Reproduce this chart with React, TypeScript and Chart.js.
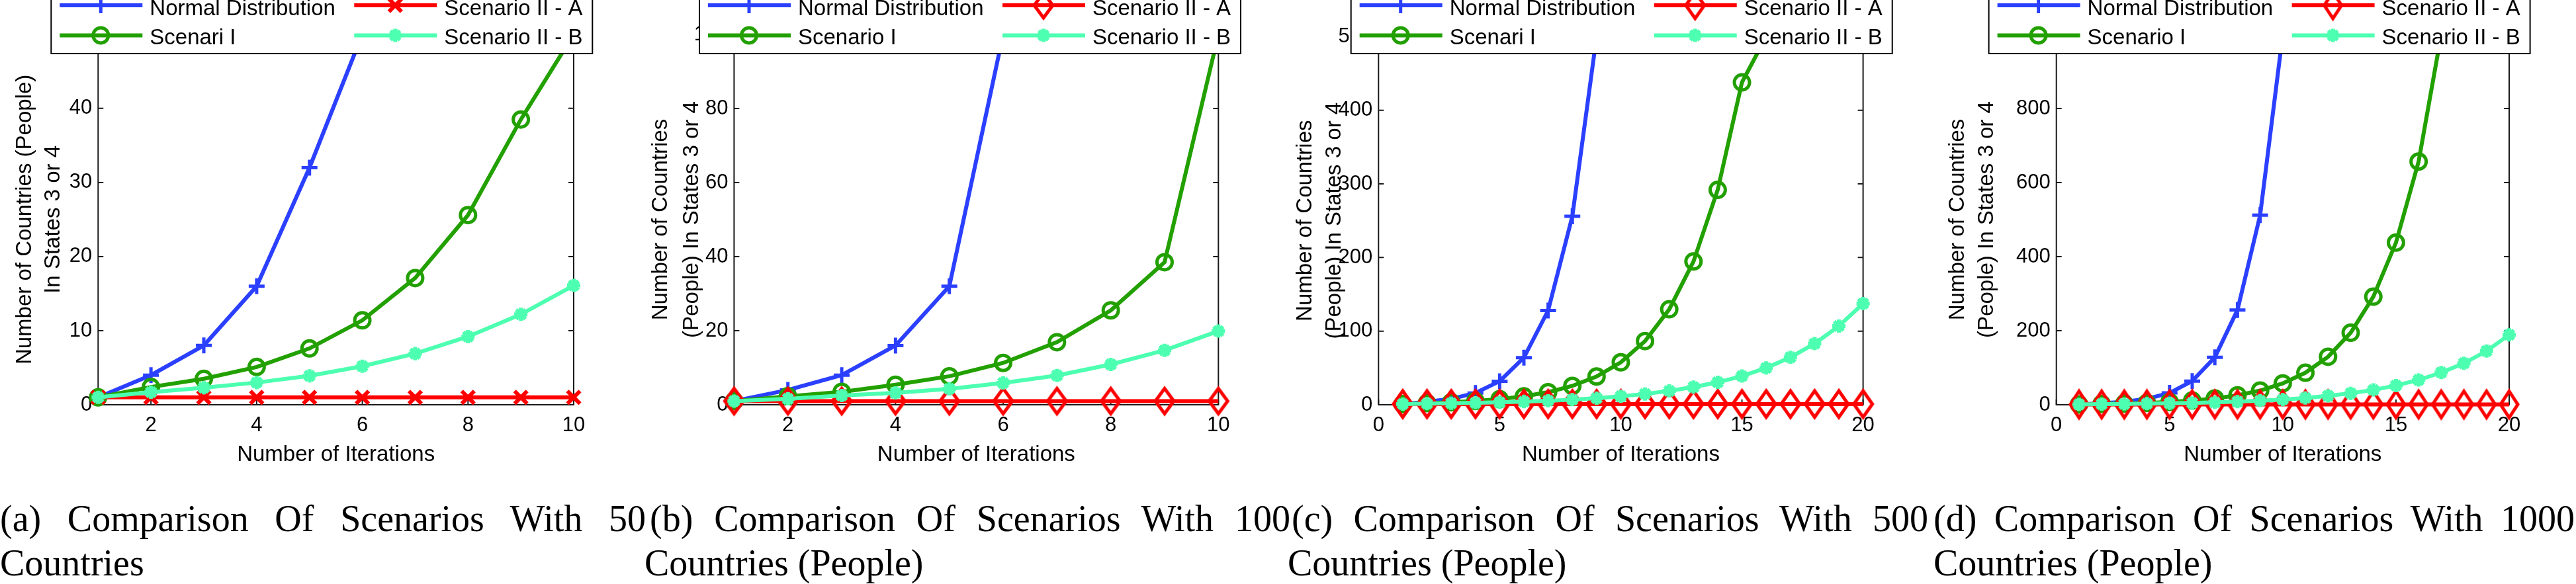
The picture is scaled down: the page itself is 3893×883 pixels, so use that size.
import React, { useEffect, useRef } from 'react';
import { Chart, registerables } from 'chart.js';

Chart.register(...registerables);

// ---------------- data ----------------
const iterations10 = [1, 2, 3, 4, 5, 6, 7, 8, 9, 10];
const iterations20 = [1, 2, 3, 4, 5, 6, 7, 8, 9, 10, 11, 12, 13, 14, 15, 16, 17, 18, 19, 20];

// (a) 50 countries
const normalA = [1, 4, 8, 16, 32, 50, 50, 50, 50, 50];
const scenarioIA = [1, 2.4, 3.5, 5.1, 7.6, 11.4, 17.1, 25.6, 38.5, 50];
const scenarioIIAa = [1, 1, 1, 1, 1, 1, 1, 1, 1, 1];
const scenarioIIBa = [1, 1.7, 2.3, 3.0, 3.9, 5.2, 6.9, 9.2, 12.2, 16.1];

// (b) 100 countries
const normalB = [1, 4, 8, 16, 32, 100, 100, 100, 100, 100];
const scenarioIB = [1, 2.3, 3.5, 5.4, 7.7, 11.3, 16.9, 25.5, 38.5, 100];
const scenarioIIAb = [1, 1, 1, 1, 1, 1, 1, 1, 1, 1];
const scenarioIIBb = [1, 1.6, 2.5, 3.2, 4.3, 5.9, 7.9, 10.9, 14.7, 19.9];

// (c) 500 countries
const normalC = [1, 4, 8, 16, 32, 64, 128, 256, 500, 500, 500, 500, 500, 500, 500, 500, 500, 500, 500, 500];
const scenarioIC = [1, 2.3, 3.4, 5.1, 7.6, 11.4, 17.1, 25.6, 38.4, 57.7, 86.5, 129.7, 194.6, 291.9, 437.9, 500, 500, 500, 500, 500];
const scenarioIIAc = [1, 1, 1, 1, 1, 1, 1, 1, 1, 1, 1, 1, 1, 1, 1, 1, 1, 1, 1, 1];
const scenarioIIBc = [1, 1.5, 2, 2.6, 3.3, 4.3, 5.5, 7, 9, 11.5, 14.7, 18.8, 24, 30.5, 39, 50, 64.5, 83, 107, 137.5];

// (d) 1000 countries
const normalD = [1, 4, 8, 16, 32, 64, 128, 256, 512, 1000, 1000, 1000, 1000, 1000, 1000, 1000, 1000, 1000, 1000, 1000];
const scenarioID = [1, 2.3, 3.4, 5.1, 7.6, 11.4, 17.1, 25.6, 38.4, 57.7, 86.5, 129.7, 194.6, 291.9, 437.9, 656.8, 1000, 1000, 1000, 1000];
const scenarioIIAd = [1, 1, 1, 1, 1, 1, 1, 1, 1, 1, 1, 1, 1, 1, 1, 1, 1, 1, 1, 1];
const scenarioIIBd = [1, 1.7, 2.3, 3, 3.9, 5, 6.5, 8.5, 11, 14, 18.5, 24, 31, 40, 52, 67, 87, 112, 145, 189];

// ticks
const xTicksShort = [2, 4, 6, 8, 10];
const xTicksLong = [0, 5, 10, 15, 20];
const yTicksA = [0, 10, 20, 30, 40, 50];
const yTicksB = [0, 20, 40, 60, 80, 100];
const yTicksC = [0, 100, 200, 300, 400, 500];
const yTicksD = [0, 200, 400, 600, 800, 1000];

// text
const legendLabelsA = ['Normal Distribution', 'Scenari I', 'Scenario II - A', 'Scenario II - B'];
const legendLabelsB = ['Normal Distribution', 'Scenario I', 'Scenario II - A', 'Scenario II - B'];
const legendLabelsC = ['Normal Distribution', 'Scenari I', 'Scenario II - A', 'Scenario II - B'];
const legendLabelsD = ['Normal Distribution', 'Scenario I', 'Scenario II - A', 'Scenario II - B'];
const yTitleA = ['Number of Countries (People)', 'In States 3 or 4'];
const yTitleOther = ['Number of Countries', '(People) In States 3 or 4'];
const xTitle = 'Number of Iterations';
const captionA = ['(a) Comparison Of Scenarios With 50', 'Countries'];
const captionB = ['(b) Comparison Of Scenarios With 100', 'Countries (People)'];
const captionC = ['(c) Comparison Of Scenarios With 500', 'Countries (People)'];
const captionD = ['(d) Comparison Of Scenarios With 1000', 'Countries (People)'];

// ---------------- styles / layout ----------------
const W = 973;
const H = 720;
const PLOT_BOTTOM = 612;
const FONT = '"Liberation Sans", Arial, sans-serif';
const SERIF = '"Liberation Serif", "Times New Roman", serif';
const BLUE = '#2b40ff';
const GREEN = '#22a000';
const RED = '#ff0000';
const AQUA = '#4dffb0';
const AXIS = '#1a1a1a';
const TICK_LEN = 8;

type Panel = {
  left: number;
  plotLeft: number;
  plotRight: number;
  plotTop: number;
  legendLeft: number;
  titleLH: number;
  titlePad: number;
  xMin: number;
  xMax: number;
  yMax: number;
  x: number[];
  series: number[][];
  labels: string[];
  yTitle: string[];
  xTicks: number[];
  yTicks: number[];
  diamond: null | { hw: number; hh: number };
};

const PANELS: Panel[] = [
  {
    left: 0, plotLeft: 148.3, plotRight: 867, plotTop: 51.8, legendLeft: 77.3, titleLH: 43, titlePad: 16,
    xMin: 1, xMax: 10, yMax: 50, x: iterations10,
    series: [normalA, scenarioIA, scenarioIIAa, scenarioIIBa], labels: legendLabelsA, yTitle: yTitleA,
    xTicks: xTicksShort, yTicks: yTicksA, diamond: null,
  },
  {
    left: 973, plotLeft: 136.4, plotRight: 868.3, plotTop: 52.1, legendLeft: 84, titleLH: 46.6, titlePad: 3.1,
    xMin: 1, xMax: 10, yMax: 100, x: iterations10,
    series: [normalB, scenarioIB, scenarioIIAb, scenarioIIBb], labels: legendLabelsB, yTitle: yTitleOther,
    xTicks: xTicksShort, yTicks: yTicksB, diamond: { hw: 14, hh: 19 },
  },
  {
    left: 1946, plotLeft: 137.3, plotRight: 869.6, plotTop: 55.4, legendLeft: 95.7, titleLH: 43.6, titlePad: 5.6,
    xMin: 0, xMax: 20, yMax: 500, x: iterations20,
    series: [normalC, scenarioIC, scenarioIIAc, scenarioIIBc], labels: legendLabelsC, yTitle: yTitleOther,
    xTicks: xTicksLong, yTicks: yTicksC, diamond: { hw: 14, hh: 20 },
  },
  {
    left: 2920, plotLeft: 187.7, plotRight: 872, plotTop: 52.1, legendLeft: 85.6, titleLH: 44, titlePad: 17,
    xMin: 0, xMax: 20, yMax: 1000, x: iterations20,
    series: [normalD, scenarioID, scenarioIIAd, scenarioIIBd], labels: legendLabelsD, yTitle: yTitleOther,
    xTicks: xTicksLong, yTicks: yTicksD, diamond: { hw: 13, hh: 20 },
  },
];

const CAPTIONS = [
  { lines: captionA, l1: [0, 976], l2: 0 },
  { lines: captionB, l1: [982, 1950], l2: 974 },
  { lines: captionC, l1: [1952, 2914], l2: 1946 },
  { lines: captionD, l1: [2922, 3891], l2: 2922 },
];

type MarkerStyle = { color: string; style: string | HTMLCanvasElement; radius: number; lw: number };

function makeDiamond(hw: number, hh: number, lw: number, color: string): HTMLCanvasElement {
  const c = document.createElement('canvas');
  const pad = lw + 2;
  c.width = Math.ceil(2 * hw + 2 * pad);
  c.height = Math.ceil(2 * hh + 2 * pad);
  const g = c.getContext('2d')!;
  const cx = c.width / 2;
  const cy = c.height / 2;
  g.strokeStyle = color;
  g.lineWidth = lw;
  g.lineJoin = 'miter';
  g.beginPath();
  g.moveTo(cx, cy - hh);
  g.lineTo(cx + hw, cy);
  g.lineTo(cx, cy + hh);
  g.lineTo(cx - hw, cy);
  g.closePath();
  g.stroke();
  return c;
}

function drawMarker(ctx: CanvasRenderingContext2D, m: MarkerStyle, x: number, y: number) {
  if (typeof m.style !== 'string') {
    const img = m.style;
    ctx.drawImage(img, x - img.width / 2, y - img.height / 2);
    return;
  }
  const r = m.radius;
  const d = r * Math.SQRT1_2;
  ctx.save();
  ctx.strokeStyle = m.color;
  ctx.lineWidth = m.lw;
  ctx.beginPath();
  if (m.style === 'circle') {
    ctx.arc(x, y, r, 0, Math.PI * 2);
  }
  if (m.style === 'cross' || m.style === 'star') {
    ctx.moveTo(x - r, y);
    ctx.lineTo(x + r, y);
    ctx.moveTo(x, y - r);
    ctx.lineTo(x, y + r);
  }
  if (m.style === 'crossRot' || m.style === 'star') {
    ctx.moveTo(x - d, y - d);
    ctx.lineTo(x + d, y + d);
    ctx.moveTo(x - d, y + d);
    ctx.lineTo(x + d, y - d);
  }
  ctx.stroke();
  ctx.restore();
}

function buildChart(canvas: HTMLCanvasElement, p: Panel): Chart {
  const markers: MarkerStyle[] = [
    { color: BLUE, style: 'cross', radius: 12, lw: 5 },
    { color: GREEN, style: 'circle', radius: 11.5, lw: 5 },
    p.diamond
      ? { color: RED, style: makeDiamond(p.diamond.hw, p.diamond.hh, 5, RED), radius: 15, lw: 5 }
      : { color: RED, style: 'crossRot', radius: 13.5, lw: 6 },
    { color: AQUA, style: 'star', radius: 10, lw: 6 },
  ];

  const datasets = p.series.map((vals, i) => ({
    label: p.labels[i],
    data: p.x.map((xv, j) => ({ x: xv, y: vals[j] })),
    borderColor: markers[i].color,
    borderWidth: 6,
    pointStyle: markers[i].style as any,
    pointRadius: markers[i].radius,
    pointBorderWidth: markers[i].lw,
    pointBorderColor: markers[i].color,
    pointBackgroundColor: 'rgba(0,0,0,0)',
    tension: 0,
    fill: false,
    clip: false as any,
    order: 3 - i,
  }));

  const framePlugin = {
    id: 'frameAndLegend',
    beforeDatasetsDraw(chart: Chart) {
      const { ctx, chartArea } = chart;
      const { left, right, top, bottom } = chartArea;
      const xs = chart.scales.x;
      const ys = chart.scales.y;
      ctx.save();
      ctx.strokeStyle = AXIS;
      ctx.lineWidth = 2;
      ctx.strokeRect(left, top, right - left, bottom - top);
      ctx.beginPath();
      for (const v of p.yTicks) {
        const py = ys.getPixelForValue(v);
        ctx.moveTo(left, py);
        ctx.lineTo(left + TICK_LEN, py);
        ctx.moveTo(right, py);
        ctx.lineTo(right - TICK_LEN, py);
      }
      for (const v of p.xTicks) {
        const px = xs.getPixelForValue(v);
        ctx.moveTo(px, bottom);
        ctx.lineTo(px, bottom - TICK_LEN);
        ctx.moveTo(px, top);
        ctx.lineTo(px, top + TICK_LEN);
      }
      ctx.stroke();
      ctx.restore();
    },
    afterDraw(chart: Chart) {
      const ctx = chart.ctx;
      const L = p.legendLeft;
      ctx.save();
      ctx.fillStyle = '#ffffff';
      ctx.fillRect(L, -30, 818, 111);
      ctx.strokeStyle = '#000000';
      ctx.lineWidth = 2;
      ctx.strokeRect(L, -30, 818, 111);
      const slots = [[0, 0], [0, 1], [1, 0], [1, 1]];
      markers.forEach((m, i) => {
        const [col, row] = slots[i];
        const x0 = L + (col ? 458 : 13);
        const ly = row ? 53.5 : 8;
        const ty = row ? 66.7 : 22.5;
        ctx.strokeStyle = m.color;
        ctx.lineWidth = 6;
        ctx.lineCap = 'butt';
        ctx.beginPath();
        ctx.moveTo(x0, ly);
        ctx.lineTo(x0 + 125, ly);
        ctx.stroke();
        drawMarker(ctx, m, x0 + 62, ly);
        ctx.fillStyle = '#000000';
        ctx.font = `33px ${FONT}`;
        ctx.textAlign = 'left';
        ctx.textBaseline = 'alphabetic';
        ctx.fillText(p.labels[i], x0 + 136, ty);
      });
      ctx.restore();
    },
  };

  return new Chart(canvas, {
    type: 'line',
    data: { datasets: datasets as any },
    plugins: [framePlugin as any],
    options: {
      responsive: false,
      animation: false,
      devicePixelRatio: 1,
      events: [],
      layout: { padding: { top: p.plotTop, left: 0, right: W - p.plotRight, bottom: 0 } },
      plugins: {
        legend: { display: false },
        tooltip: { enabled: false },
        title: { display: false },
      },
      scales: {
        x: {
          type: 'linear',
          min: p.xMin,
          max: p.xMax,
          grid: { display: false, drawTicks: false },
          border: { display: false },
          afterBuildTicks: (s: any) => {
            s.ticks = p.xTicks.map((v) => ({ value: v }));
          },
          afterFit: (s: any) => {
            s.height = H - PLOT_BOTTOM;
          },
          ticks: {
            font: { family: FONT, size: 31 },
            color: '#000000',
            padding: 13,
            maxRotation: 0,
            autoSkip: false,
            callback: (v: any) => String(v),
          },
          title: {
            display: true,
            text: xTitle,
            font: { family: FONT, size: 33 },
            color: '#000000',
            padding: { top: 0, bottom: 12 },
          },
        },
        y: {
          type: 'linear',
          min: 0,
          max: p.yMax,
          grid: { display: false, drawTicks: false },
          border: { display: false },
          afterBuildTicks: (s: any) => {
            s.ticks = p.yTicks.map((v) => ({ value: v }));
          },
          afterFit: (s: any) => {
            s.width = p.plotLeft;
          },
          ticks: {
            font: { family: FONT, size: 31 },
            color: '#000000',
            padding: 9,
            autoSkip: false,
            callback: (v: any) => String(v),
          },
          title: {
            display: true,
            text: p.yTitle,
            font: { family: FONT, size: 33, lineHeight: `${p.titleLH}px` },
            color: '#000000',
            padding: { top: p.titlePad, bottom: 0 },
          },
        },
      },
    } as any,
  });
}

function ChartPanel({ p }: { p: Panel }) {
  const ref = useRef<HTMLCanvasElement>(null);
  useEffect(() => {
    const chart = buildChart(ref.current!, p);
    return () => chart.destroy();
  }, [p]);
  return (
    <canvas
      ref={ref}
      width={W}
      height={H}
      style={{ position: 'absolute', left: p.left, top: 0, width: W, height: H }}
    />
  );
}

export default function App() {
  return (
    <div
      style={{
        position: 'absolute',
        left: 0,
        top: 0,
        width: 3893,
        height: 883,
        overflow: 'hidden',
        background: '#ffffff',
      }}
    >
      {PANELS.map((p, i) => (
        <ChartPanel key={i} p={p} />
      ))}
      {CAPTIONS.map((c, i) => (
        <React.Fragment key={i}>
          <div
            style={{
              position: 'absolute',
              left: c.l1[0],
              top: 751,
              width: c.l1[1] - c.l1[0],
              fontFamily: SERIF,
              fontSize: 56,
              lineHeight: '67px',
              color: '#000',
              textAlign: 'justify',
              textAlignLast: 'justify',
            }}
          >
            {c.lines[0]}
          </div>
          <div
            style={{
              position: 'absolute',
              left: c.l2,
              top: 818,
              fontFamily: SERIF,
              fontSize: 56,
              lineHeight: '67px',
              color: '#000',
              whiteSpace: 'nowrap',
            }}
          >
            {c.lines[1]}
          </div>
        </React.Fragment>
      ))}
    </div>
  );
}
